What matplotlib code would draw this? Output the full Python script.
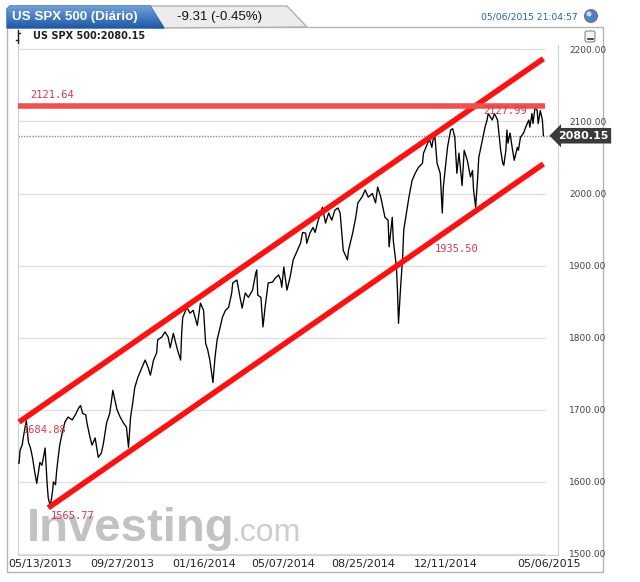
import matplotlib.pyplot as plt
import numpy as np
from matplotlib.patches import Polygon, Rectangle, Circle, FancyBboxPatch
from matplotlib.transforms import blended_transform_factory

# trading session index (0 = first session shown) and close values
days = [0, 1, 2, 4, 5, 8, 10, 12, 14, 16, 18, 21, 23, 26, 28, 29, 31, 33, 34, 36,
        37, 38, 40, 42, 45, 48, 52, 55, 58, 60, 62, 65, 66, 69, 71, 74, 77, 80, 82, 85,
        88, 91, 93, 95, 98, 101, 104, 106, 108, 110, 112, 115, 119, 122, 125, 127, 130, 133, 134, 138,
        141, 144, 146, 149, 153, 156, 157, 158, 162, 165, 168, 172, 175, 178, 180, 182, 184, 187, 189, 191,
        194, 196, 199, 202, 205, 206, 210, 213, 215, 218, 221, 225, 228, 229, 230, 233, 235, 237, 240, 244,
        247, 250, 252, 253, 255, 258, 261, 264, 268, 271, 273, 276, 277, 280, 283, 285, 288, 292, 295, 298,
        301, 304, 307, 309, 311, 312, 316, 317, 321, 324, 326, 330, 333, 336, 340, 343, 345, 348, 350, 352,
        355, 356, 359, 360, 363, 364, 365, 367, 369, 370, 373, 375, 378, 381, 384, 388, 389, 393, 395, 397,
        398, 400, 402, 405, 407, 408, 412, 415, 417, 419, 421, 423, 426, 428, 431, 434, 436, 437, 439, 441,
        442, 444, 446, 448, 450, 451, 455, 457, 460, 461, 463, 465, 466, 468, 469, 470, 472, 474, 476, 479,
        480, 482, 485, 487, 490, 491, 493, 494, 496, 498, 499, 501, 503, 504]
close = [1626, 1626, 1644, 1651, 1661, 1684.88, 1655, 1647, 1633, 1614, 1598, 1627, 1623, 1647, 1596, 1578, 1565.77, 1586, 1600, 1596,
         1614, 1627, 1651, 1665, 1683, 1690, 1686, 1693, 1702, 1706, 1695, 1693, 1683, 1662, 1651, 1661, 1634, 1640, 1654, 1682,
         1695, 1727, 1713, 1700, 1690, 1682, 1676, 1648, 1690, 1709, 1731, 1745, 1759, 1769, 1758, 1748, 1769, 1779, 1797, 1801,
         1808, 1801, 1786, 1806, 1783, 1769, 1806, 1828, 1842, 1834, 1838, 1817, 1848, 1838, 1792, 1783, 1769, 1738, 1773, 1797,
         1815, 1828, 1838, 1842, 1862, 1876, 1880, 1856, 1841, 1862, 1856, 1866, 1889, 1894, 1859, 1856, 1815, 1842, 1876, 1877,
         1883, 1887, 1880, 1870, 1898, 1866, 1884, 1908, 1921, 1931, 1946, 1945, 1931, 1945, 1953, 1946, 1963, 1981, 1959, 1973,
         1963, 1977, 1980, 1973, 1939, 1921, 1908, 1921, 1945, 1967, 1987, 1995, 2005, 1995, 2000, 1987, 2009, 1995, 1981, 1967,
         1963, 1926, 1967, 1935, 1898, 1866, 1820, 1870, 1912, 1949, 1977, 1995, 2018, 2028, 2036, 2042, 2056, 2070, 2074, 2064,
         2074, 2078, 2042, 2028, 1973, 2009, 2064, 2088, 2090, 2078, 2028, 2056, 2011, 2060, 2046, 2023, 2032, 2005, 1981, 2023,
         2050, 2064, 2078, 2092, 2102, 2111, 2102, 2111, 2102, 2088, 2060, 2042, 2039, 2060, 2088, 2070, 2084, 2064, 2046, 2064,
         2060, 2078, 2084, 2092, 2102, 2092, 2111, 2097, 2120, 2115, 2097, 2115, 2102, 2080.15]

# trend channel (start/end session, start/end level)
upper_days = [1, 504]
upper_vals = [1683, 2187]
lower_days = [29, 504]
lower_vals = [1564, 2041]
resistance = 2121.64
last_price = 2080.15

# level labels: text, session, level
level_labels = ['2121.64', '2127.99', '1684.88', '1565.77', '1935.50']
label_days = [12, 446, 5, 31, 400]
label_vals = [2137, 2114, 1672, 1553, 1923]

date_labels = ['05/13/2013', '09/27/2013', '01/16/2014', '05/07/2014',
               '08/25/2014', '12/11/2014', '05/06/2015']
date_pos = [21, 100, 179, 254, 331, 410, 509]
yticks = [1500, 1600, 1700, 1800, 1900, 2000, 2100, 2200]

W, H = 640, 582
fig = plt.figure(figsize=(6.4, 5.82), dpi=100)

# background layer in pixel coordinates for the widget frame
bg = fig.add_axes([0, 0, 1, 1], zorder=0)
bg.set_xlim(0, W)
bg.set_ylim(H, 0)
bg.axis('off')

bg.add_patch(Rectangle((7, 27), 596, 545, facecolor='white', edgecolor='#b5b5b5', lw=1))
# grey tab
bg.add_patch(Polygon([(150, 28), (150, 6), (287, 6), (307, 27)], closed=True,
                     facecolor='#ececec', edgecolor='#b0b0b0', lw=1))
# blue tab with gradient
grad = np.linspace(0, 1, 50).reshape(-1, 1)
blue_tab = Polygon([(7, 28), (7, 9), (10, 6), (150, 6), (164, 28)], closed=True,
                   facecolor='none', edgecolor='#2a5d9c', lw=1)
bg.add_patch(blue_tab)
im = bg.imshow(grad, extent=(7, 164, 28, 6), cmap=plt.matplotlib.colors.LinearSegmentedColormap.from_list(
    'tab', ['#6f9fd8', '#1f5aa6']), aspect='auto', zorder=1)
im.set_clip_path(blue_tab)
bg.set_xlim(0, W)
bg.set_ylim(H, 0)

narrow = ['Liberation Sans Narrow', 'Liberation Sans', 'DejaVu Sans']
bg.text(12, 17, 'US SPX 500 (Diário)', color='white', fontsize=9.6, fontweight='bold',
        family=narrow, va='center', ha='left', zorder=2)
bg.text(177, 17, '-9.31 (-0.45%)', color='#111111', fontsize=9.5, family=narrow,
        va='center', ha='left', zorder=2)
bg.text(578, 17, '05/06/2015 21:04:57', color='#2262a8', fontsize=6.6,
        va='center', ha='right')
bg.add_patch(Circle((591, 16), 6.5, facecolor='#4f80c4', edgecolor='#7a7a7a', lw=0.8))
bg.add_patch(Circle((589, 14), 2.5, facecolor='#c9dcf3', edgecolor='none'))

# second row: series name
bg.plot([18, 18], [30, 43], color='#222222', lw=1)
bg.plot([16, 18], [40, 40], color='#222222', lw=1)
bg.plot([18, 20], [33, 33], color='#222222', lw=1)
bg.text(33, 36, 'US SPX 500:2080.15', fontsize=7, fontweight='bold', color='#222222',
        va='center', ha='left')
bg.add_patch(FancyBboxPatch((585, 31), 10, 11, boxstyle='round,pad=0,rounding_size=2',
                            facecolor='#f2f2f2', edgecolor='#8a8a8a', lw=0.8))
bg.plot([587.5, 592.5], [39, 39], color='#333333', lw=1.2)

# main chart area
ax = fig.add_axes([18 / W, (H - 555) / H, (558 - 18) / W, (555 - 45) / H], zorder=1)
ax.set_facecolor('white')
ax.set_xlim(0, 518)
ax.set_ylim(1498.6, 2206)

ax.hlines(yticks, 0, 506, colors='#dedede', lw=0.9, zorder=1)
ax.hlines(last_price, 0, 518, colors='#8c8c8c', lw=1, linestyles=(0, (1, 1)), zorder=2)

# watermark
ax.text(27, 541, 'Investing', transform=bg.transData, fontsize=34, fontweight='bold',
        family=['Liberation Sans', 'DejaVu Sans'], color='#c2c2c2', va='baseline', ha='left', zorder=1.5)
ax.text(231, 541, '.com', transform=bg.transData, fontsize=23,
        family=['Liberation Sans', 'DejaVu Sans'], color='#cdcdcd', va='baseline', ha='left', zorder=1.5)

ax.plot(days, close, color='black', lw=0.95, zorder=3)
ax.plot(upper_days, upper_vals, color='#ff1111', lw=4, solid_capstyle='butt', zorder=4)
ax.plot(lower_days, lower_vals, color='#ff1111', lw=4, solid_capstyle='butt', zorder=4)
ax.hlines(resistance, 0, 506, colors='#ef5050', lw=4, zorder=4)

for txt, d, v in zip(level_labels, label_days, label_vals):
    ax.text(d, v, txt, color='#d9394a', fontsize=7.5, family='DejaVu Sans Mono',
            va='center', ha='left', zorder=5)

ax.yaxis.tick_right()
ax.set_yticks(yticks)
ax.set_yticklabels(['{:.2f}'.format(v) for v in yticks])
ax.set_xticks(date_pos)
ax.set_xticklabels(date_labels)
ax.tick_params(axis='y', length=0, pad=8, labelsize=6.5, labelcolor='#444444')
ax.tick_params(axis='x', length=0, pad=3, labelsize=8, labelcolor='#222222')
for side in ['top', 'left', 'bottom', 'right']:
    ax.spines[side].set_color('#d0d0d0')
ax.spines['top'].set_visible(False)

# last price tag
tr = blended_transform_factory(ax.transAxes, ax.transData)
ax.text(1.0, last_price, '{:.2f}'.format(last_price), transform=tr, color='white',
        fontsize=8, fontweight='bold', va='center', ha='left', zorder=6,
        bbox=dict(boxstyle='larrow,pad=0.25', facecolor='#3a3a3a', edgecolor='none'),
        clip_on=False)

fig.savefig('out.png', dpi=100)
